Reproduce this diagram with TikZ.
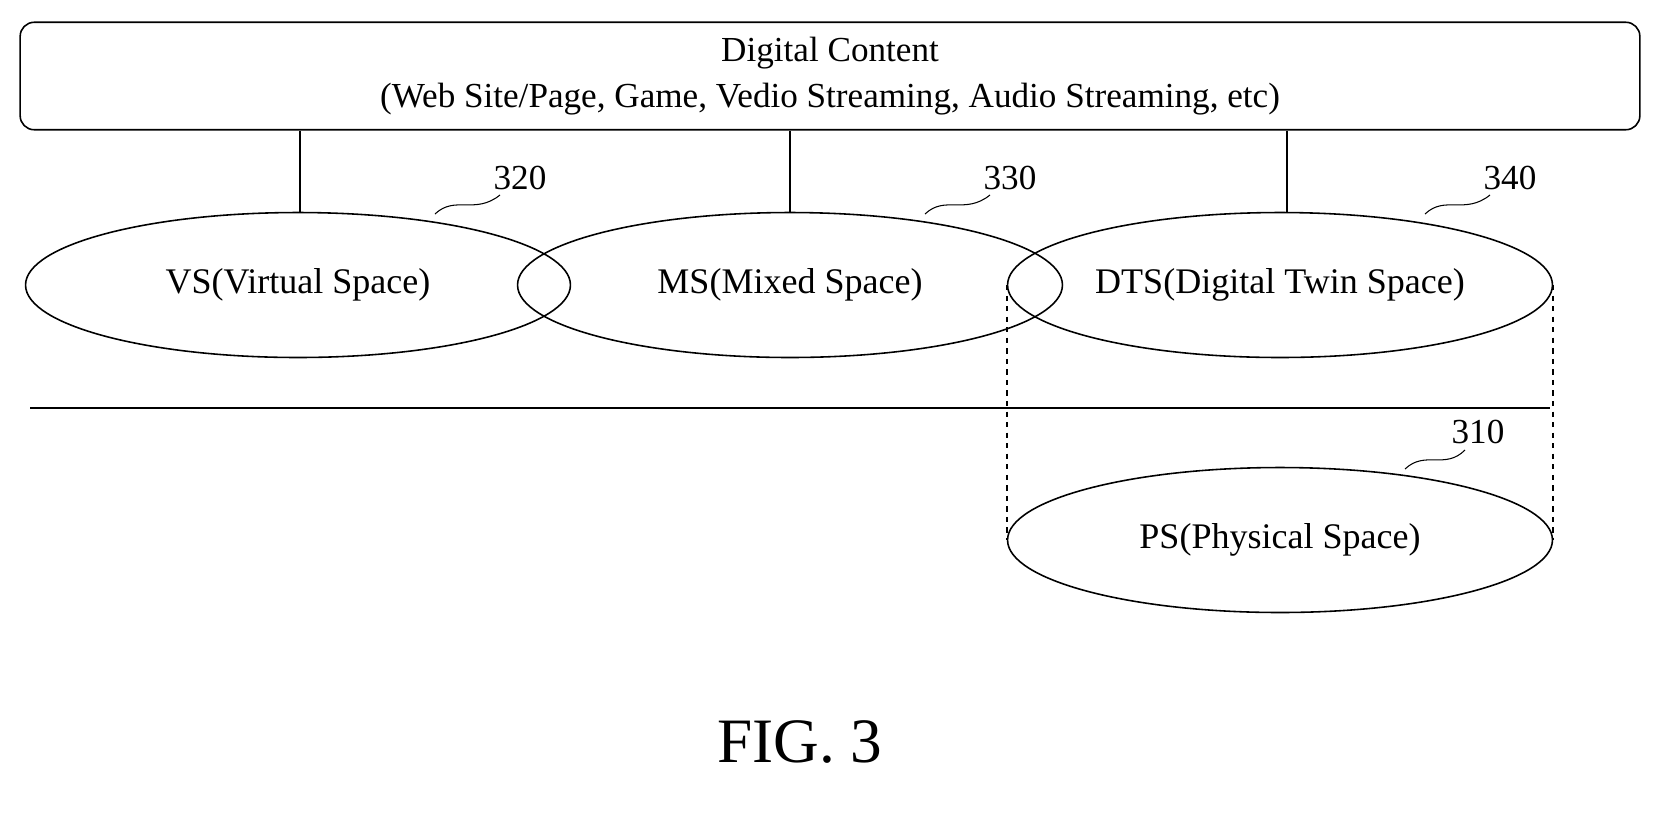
\documentclass[tikz,border=0pt]{standalone}
\usepackage{fontspec}
\setmainfont{Liberation Serif}
\usetikzlibrary{positioning, shapes}

\tikzset{
  space/.style={draw, ellipse, minimum width=10.9cm, minimum height=2.9cm, line width=0.9pt, font=\fontsize{20.5}{24}\selectfont},
  refnum/.style={font=\fontsize{20}{24}\selectfont},
  leader/.style={line width=0.6pt}
}

\begin{document}
\begin{tikzpicture}[x=0.02cm, y=-0.02cm, line width=0.9pt]
  \useasboundingbox (0,0) rectangle (1659,826);

  % content box
  \node[draw, rounded corners=8pt, minimum width=32.4cm, minimum height=2.15cm, align=center,
        font=\fontsize{20}{26}\selectfont] (content) at (830,76)
        {Digital Content\\(Web Site/Page, Game, Vedio Streaming, Audio Streaming, etc)};

  % spaces
  \node[space] (vs)  at (298,285)  {VS(Virtual Space)};
  \node[space] (ms)  at (790,285)  {MS(Mixed Space)};
  \node[space] (dts) at (1280,285) {DTS(Digital Twin Space)};
  \node[space] (ps)  at (1280,540) {PS(Physical Space)};

  % links to content
  \draw (content.south -| 300,0) -- (vs.north -| 300,0);
  \draw (content.south -| 790,0) -- (ms.north);
  \draw (content.south -| 1287,0) -- (dts.north -| 1287,0);

  % divider
  \coordinate (divl) at (30,408);
  \coordinate (divr) at (1550,408);
  \draw (divl) -- (divr);

  % projection
  \draw[dashed] (dts.west) -- (ps.west);
  \draw[dashed] (dts.east) -- (ps.east);

  % reference numerals
  \node[refnum] (n320) at (520,178) {320};
  \node[refnum] (n330) at (1010,178) {330};
  \node[refnum] (n340) at (1510,178) {340};
  \node[refnum] (n310) at (1478,432) {310};
  \draw[leader] (435,214) .. controls (455,195) and (475,215) .. (500,195);
  \draw[leader] (925,214) .. controls (945,195) and (965,215) .. (990,195);
  \draw[leader] (1425,214) .. controls (1445,195) and (1465,215) .. (1490,195);
  \draw[leader] (1405,469) .. controls (1425,450) and (1445,470) .. (1465,450);

  \node[font=\fontsize{36}{40}\selectfont] (fig) at (800,742) {FIG. 3};
\end{tikzpicture}
\end{document}
